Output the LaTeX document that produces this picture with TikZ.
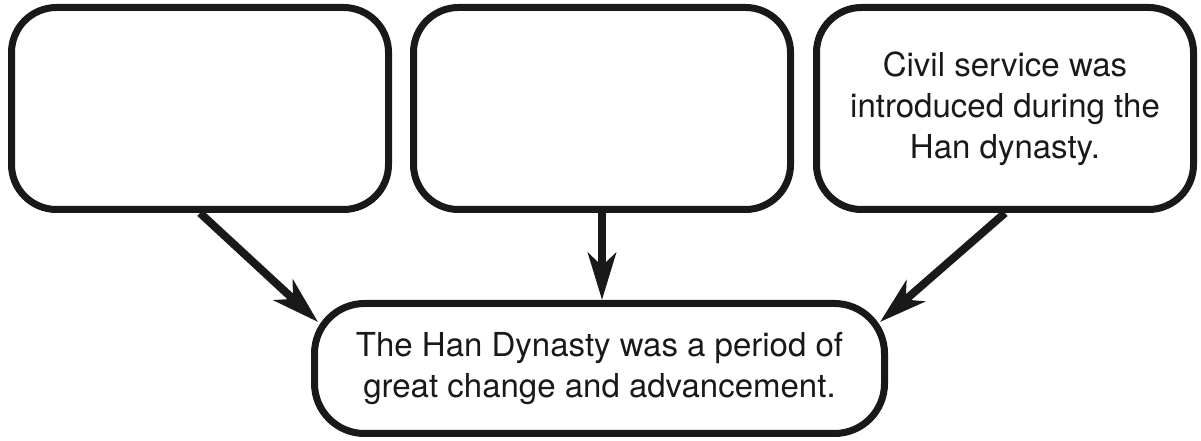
\documentclass[tikz,border=0pt]{standalone}
\usepackage{fontspec}
\setmainfont{TeX Gyre Heros}
\usetikzlibrary{arrows.meta, calc}

\begin{document}
\begin{tikzpicture}[x=1pt, y=1pt, >={Stealth[length=47pt, width=28pt, inset=13pt]},
		line join=round,
		card/.style={draw=black!90, line width=7pt, rounded corners=45pt,
			minimum width=377pt, minimum height=202pt, inner sep=0pt,
			align=center, text=black!90, font=\fontsize{33}{41}\selectfont},
		link/.style={->, draw=black!90, fill=black!90, line width=8pt}]
		
		\useasboundingbox (0,0) rectangle (1201,441);
		
		%========================
		% top row: three cards
		%========================
		\node[card] (lbox) at (200,332.5) {};
		\node[card] (mbox) at (602,332.5) {};
		\node[card] (rbox) at (1005,332.5)
		{Civil service was\\introduced during the\\Han dynasty.};
		
		%========================
		% bottom: main idea
		%========================
		\node[card, rounded corners=50pt, minimum width=570pt, minimum height=130pt]
		(goal) at (599.5,72.5)
		{The Han Dynasty was a period of\\great change and advancement.};
		
		% arrows into the main idea
		\draw[link] (lbox.south) -- ($(goal.north west)+(7,-22)$);
		\draw[link] (mbox.south) -- (goal.north -| mbox.south);
		\draw[link] (rbox.south) -- ($(goal.north east)+(-8,-22)$);
		
	\end{tikzpicture}
\end{document}
